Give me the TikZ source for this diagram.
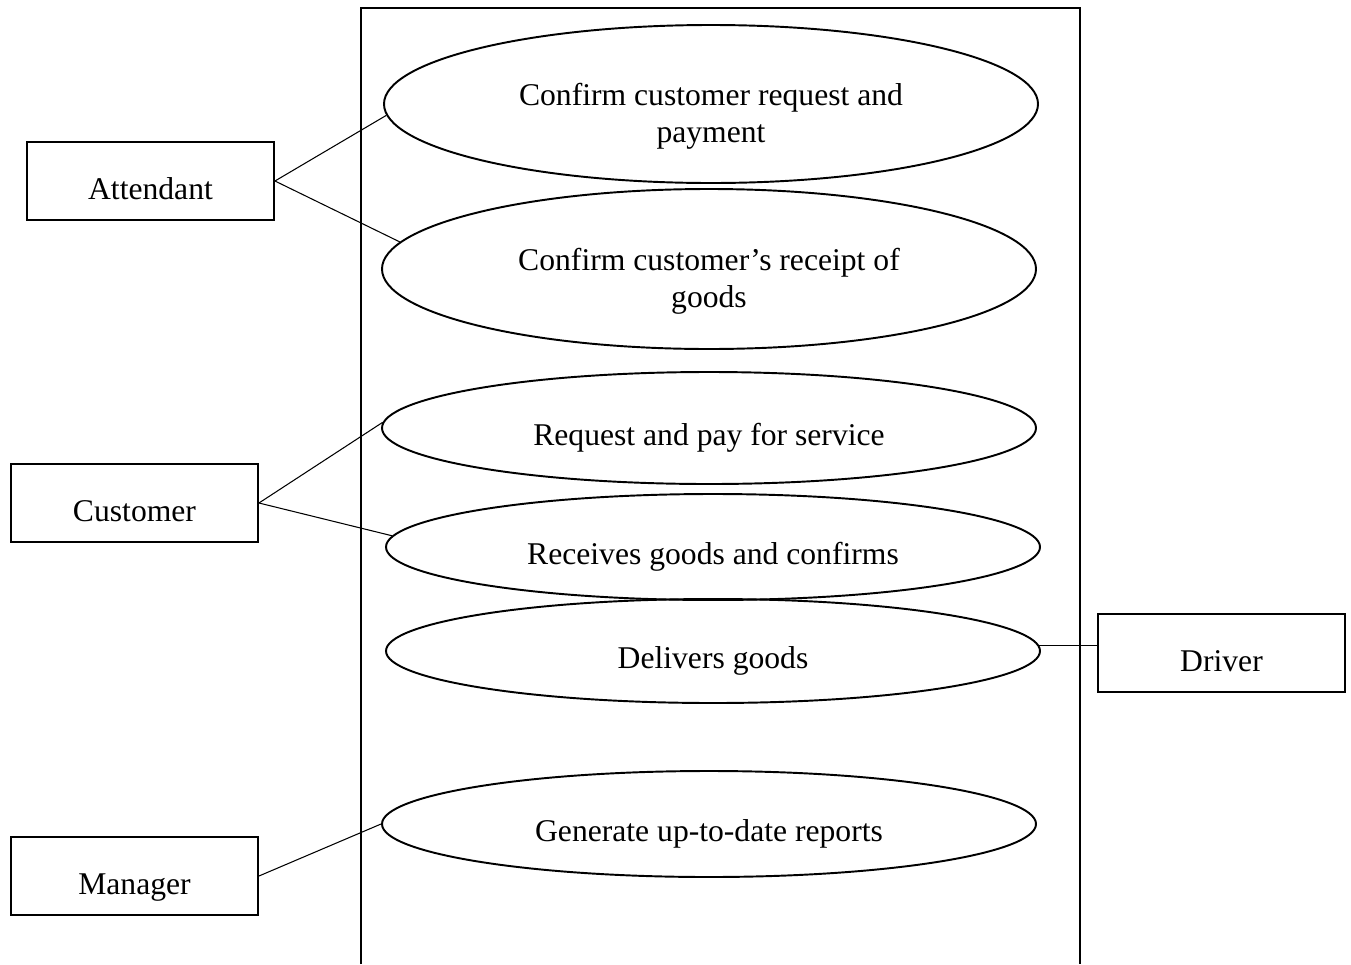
\documentclass[tikz,border=0pt]{standalone}
\usepackage{fontspec}
\setmainfont{Liberation Serif}
\usepackage{tikz}
\usetikzlibrary{shapes.geometric, positioning}

\begin{document}
\begin{tikzpicture}[
    actor/.style={rectangle, draw, line width=1.1pt, minimum width=4.94cm, minimum height=1.56cm, inner sep=0pt, text height=0.74cm, text depth=0pt, font=\fontsize{18}{21}\selectfont},
    usecase/.style={ellipse, draw, line width=1.1pt, minimum width=13.08cm, inner sep=0pt, text height=0.70cm, text depth=0pt, font=\fontsize{18}{21}\selectfont},
    usecasetwo/.style={usecase, align=center, text height=1.52cm},
    assoc/.style={line width=0.6pt},
    boundary/.style={line width=1.1pt}
]
\useasboundingbox (0,0) rectangle (27.02,-19.28);

% System boundary
\draw[boundary] (7.22,-19.28) |- (21.60,-0.16) -- (21.60,-19.28);

% Use cases
\node[usecasetwo, minimum height=3.16cm] (confirmreq) at (14.22,-2.08) {Confirm customer request and\\payment};
\node[usecasetwo, minimum height=3.20cm] (confirmrec) at (14.18,-5.38) {Confirm customer’s receipt of\\goods};
\node[usecase, minimum height=2.24cm] (request) at (14.18,-8.56) {Request and pay for service};
\node[usecase, minimum height=2.12cm] (receive) at (14.26,-10.94) {Receives goods and confirms};
\node[usecase, minimum height=2.08cm] (deliver) at (14.26,-13.02) {Delivers goods};
\node[usecase, minimum height=2.12cm] (report) at (14.18,-16.48) {Generate up-to-date reports};

% Actors
\node[actor] (attendant) at (3.01,-3.62) {Attendant};
\node[actor] (customer) at (2.69,-10.06) {Customer};
\node[actor] (manager) at (2.69,-17.52) {Manager};
\node[actor] (driver) at (24.43,-13.06) {Driver};

% Associations
\draw[assoc] (attendant.east) -- (confirmreq.182);
\draw[assoc] (attendant.east) -- (confirmrec.175);
\draw[assoc] (customer.east) -- (request.179);
\draw[assoc] (customer.east) -- (receive.178);
\draw[assoc] (manager.east) -- (report.west);
\draw[assoc] (deliver.1) -- (deliver.1 -| driver.west);

\end{tikzpicture}
\end{document}
